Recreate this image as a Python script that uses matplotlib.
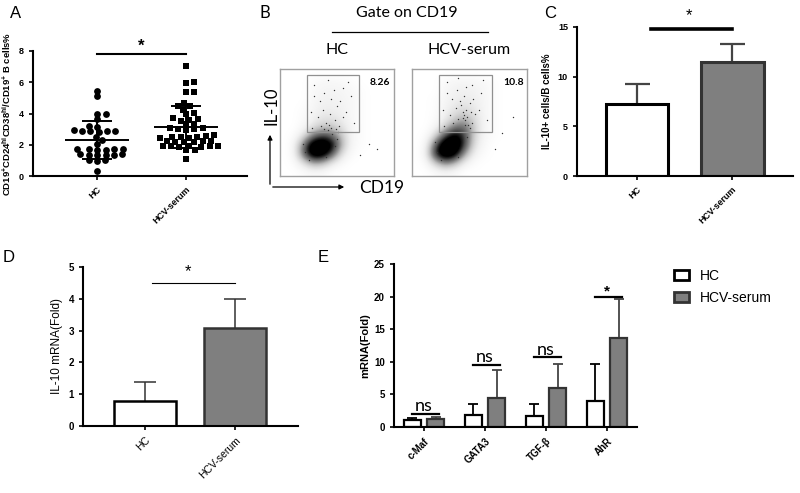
import numpy as np
import matplotlib
matplotlib.use('Agg')
import matplotlib.pyplot as plt
from matplotlib.patches import Rectangle, Patch

plt.rcParams['font.family'] = ['Liberation Sans', 'DejaVu Sans']
plt.rcParams['mathtext.default'] = 'regular'

# ---------------- data ----------------
groups = ['HC', 'HCV-serum']

# Panel A: individual values (%)
a_hc = [5.47, 5.15, 4.0, 4.0, 3.65, 3.16, 3.2, 2.9, 2.9, 2.85, 2.8, 2.9, 2.95,
        2.5, 2.3, 2.05, 1.7, 1.68, 1.7, 1.68, 1.7, 1.72, 1.35, 1.35, 1.4, 1.35,
        1.35, 1.4, 1.0, 0.95, 1.0, 0.35]
a_hcv = [7.05, 5.95, 6.0, 5.4, 5.35, 4.7, 4.45, 4.5, 4.25, 4.05, 3.95, 3.65, 3.6,
         3.55, 3.7, 3.3, 3.35, 3.0, 3.05, 2.95, 3.0, 3.1, 2.5, 2.55, 2.45, 2.5,
         2.6, 2.45, 2.5, 2.25, 2.25, 2.2, 2.2, 2.25, 2.2, 1.9, 1.85, 1.9, 1.9, 1.85,
         1.9, 1.95, 1.65, 1.65, 1.1]
a_sig = 7.8

# Panel B: flow cytometry density (rows top->bottom, cols left->right, 0..1)
b_hc_density = [
    [0, 0, 0, 0, 0, 0, 0, 0, 0, 0, 0, 0],
    [0, 0, 0, .03, .05, .05, .04, .03, 0, 0, 0, 0],
    [0, 0, 0, .04, .06, .07, .06, .04, .02, 0, 0, 0],
    [0, 0, 0, .05, .08, .08, .07, .05, .02, 0, 0, 0],
    [0, 0, .02, .06, .10, .10, .08, .05, .02, 0, 0, 0],
    [0, 0, .03, .08, .14, .14, .10, .05, .02, 0, 0, 0],
    [0, 0, .05, .15, .25, .25, .15, .06, .02, 0, 0, 0],
    [0, .02, .15, .45, .60, .50, .25, .06, .02, 0, 0, 0],
    [0, .05, .45, .95, 1.0, .80, .30, .05, .02, 0, 0, 0],
    [0, .05, .50, .95, .90, .55, .15, .03, 0, 0, 0, 0],
    [0, .02, .15, .35, .30, .12, .03, 0, 0, 0, 0, 0],
    [0, 0, .02, .04, .03, 0, 0, 0, 0, 0, 0, 0]]
b_hcv_density = [
    [0, 0, 0, 0, 0, 0, 0, 0, 0, 0, 0, 0],
    [0, 0, 0, .04, .06, .07, .06, .04, .02, 0, 0, 0],
    [0, 0, 0, .05, .08, .09, .08, .05, .02, 0, 0, 0],
    [0, 0, .02, .06, .10, .12, .10, .06, .02, 0, 0, 0],
    [0, 0, .02, .08, .14, .18, .12, .06, .02, 0, 0, 0],
    [0, 0, .03, .10, .22, .30, .18, .06, .02, 0, 0, 0],
    [0, 0, .06, .22, .45, .50, .22, .06, .02, 0, 0, 0],
    [0, .02, .20, .60, .85, .60, .20, .05, .02, 0, 0, 0],
    [0, .05, .55, 1.0, 1.0, .60, .15, .04, 0, 0, 0, 0],
    [0, .08, .70, 1.0, .85, .35, .08, .02, 0, 0, 0, 0],
    [0, .03, .25, .45, .30, .08, .02, 0, 0, 0, 0, 0],
    [0, 0, .03, .05, .03, 0, 0, 0, 0, 0, 0, 0]]
b_hc_dots = [(0.30, 0.85), (0.42, 0.90), (0.55, 0.82), (0.62, 0.75), (0.35, 0.70),
             (0.45, 0.72), (0.50, 0.65), (0.38, 0.62), (0.58, 0.60), (0.27, 0.60),
             (0.44, 0.58), (0.33, 0.55), (0.48, 0.52), (0.40, 0.50), (0.52, 0.47),
             (0.36, 0.47), (0.45, 0.45), (0.42, 0.43), (0.55, 0.55), (0.65, 0.50),
             (0.30, 0.75), (0.60, 0.88), (0.47, 0.80), (0.39, 0.78), (0.53, 0.70),
             (0.28, 0.45), (0.46, 0.39), (0.50, 0.35), (0.22, 0.22), (0.20, 0.30),
             (0.48, 0.28), (0.25, 0.15), (0.40, 0.18), (0.78, 0.30), (0.85, 0.25),
             (0.70, 0.20), (0.49, 0.44), (0.43, 0.48), (0.39, 0.44), (0.51, 0.41)]
b_hcv_dots = [(0.30, 0.88), (0.40, 0.92), (0.52, 0.85), (0.60, 0.78), (0.35, 0.72),
              (0.45, 0.75), (0.50, 0.68), (0.38, 0.64), (0.58, 0.62), (0.27, 0.62),
              (0.44, 0.60), (0.33, 0.57), (0.48, 0.55), (0.40, 0.53), (0.52, 0.50),
              (0.36, 0.50), (0.45, 0.57), (0.47, 0.62), (0.55, 0.58), (0.65, 0.52),
              (0.30, 0.78), (0.62, 0.90), (0.47, 0.83), (0.39, 0.80), (0.53, 0.72),
              (0.28, 0.47), (0.46, 0.52), (0.50, 0.45), (0.22, 0.22), (0.20, 0.32),
              (0.48, 0.36), (0.25, 0.15), (0.40, 0.18), (0.78, 0.40), (0.88, 0.55),
              (0.72, 0.25), (0.49, 0.48), (0.43, 0.66), (0.42, 0.70), (0.51, 0.60),
              (0.46, 0.48), (0.44, 0.54)]
b_hc_pct = '8.26'
b_hcv_pct = '10.8'

# Panel C
c_mean = [7.25, 11.5]
c_err = [2.0, 1.8]
c_sig = 14.8

# Panel D
d_mean = [0.79, 3.08]
d_err = [0.59, 0.92]
d_sig = 4.5

# Panel E
e_genes = ['c-Maf', 'GATA3', 'TGF-β', 'AhR']
e_hc = [1.07, 1.9, 1.7, 4.0]
e_hc_err = [0.25, 1.6, 1.8, 5.6]
e_hcv = [1.2, 4.5, 6.0, 13.7]
e_hcv_err = [0.4, 4.25, 3.7, 5.9]
e_sig_y = [2.0, 9.5, 10.7, 20.0]
e_sig_txt = ['ns', 'ns', 'ns', '*']

# ---------------- figure ----------------
W, H = 800, 493
fig = plt.figure(figsize=(8, 4.93), dpi=100)


def fr(x0, y0, x1, y1):
    return [x0 / W, 1 - y1 / H, (x1 - x0) / W, (y1 - y0) / H]


def ftext(x, y, s, **kw):
    fig.text(x / W, 1 - y / H, s, **kw)


GRAY = '#7f7f7f'
EDGE = '#333333'


def style_axes(ax, lw=1.5):
    for s in ['top', 'right']:
        ax.spines[s].set_visible(False)
    for s in ['left', 'bottom']:
        ax.spines[s].set_linewidth(lw)
    ax.tick_params(direction='out', length=3, width=1.2)


def swarm(vals, xscale, yscale, dx_min, dy_min):
    """Beeswarm offsets (elliptical collision) in data units."""
    vals = np.asarray(vals, float)
    order = np.argsort(vals)
    xs = np.zeros(len(vals))
    placed = []
    k = dx_min / dy_min
    for i in order:
        y = vals[i] * yscale * k
        cands = [0.0]
        for px, py in placed:
            dy = y - py
            if abs(dy) < dx_min:
                dx = np.sqrt(dx_min ** 2 - dy ** 2)
                cands += [px + dx, px - dx]
        cands = sorted(cands, key=lambda c: (round(abs(c), 6), -c))
        for c in cands:
            if all((c - px) ** 2 + (y - py) ** 2 >= dx_min ** 2 - 1e-6
                   for px, py in placed):
                xs[i] = c
                break
        placed.append((xs[i], y))
    return xs / xscale


# ---------- Panel A ----------
axA = fig.add_axes(fr(33, 51, 247, 176))
xlA = (-0.72, 1.685)
axA.set_xlim(*xlA)
axA.set_ylim(0, 8)
style_axes(axA)
posA = axA.get_position()
xsc = posA.width * W / (xlA[1] - xlA[0])
ysc = posA.height * H / 8.0
for k, (vals, mk) in enumerate([(a_hc, 'o'), (a_hcv, 's')]):
    off = swarm(vals, xsc, ysc, 8.5, 5.0)
    axA.scatter(k + off, vals, marker=mk, s=24 if mk == 'o' else 22, color='k',
                linewidths=0, zorder=3, clip_on=False)
    m = np.mean(vals)
    sd = np.std(vals, ddof=1)
    axA.hlines(m, k - 0.36, k + 0.36, color='k', lw=1.4, zorder=4)
    axA.hlines([m - sd, m + sd], k - 0.17, k + 0.17, color='k', lw=1.4, zorder=4)
    axA.vlines(k, m - sd, m + sd, color='k', lw=1.4, zorder=4)
axA.set_yticks([0, 2, 4, 6, 8])
axA.set_xticks([0, 1])
axA.set_xticklabels(groups, rotation=45, ha='right', rotation_mode='anchor',
                    fontsize=6.5, fontweight='bold')
for lab in axA.get_yticklabels():
    lab.set_fontsize(6.5)
    lab.set_fontweight('bold')
axA.plot([0, 1], [a_sig, a_sig], color='k', lw=1.5, clip_on=False)
axA.text(0.5, a_sig + 0.05, '*', ha='center', va='bottom', fontsize=12, fontweight='bold')
axA.set_ylabel(r'CD19$^{+}$CD24$^{hi}$CD38$^{hi}$/CD19$^{+}$ B cells%',
               fontsize=6.8, fontweight='bold', labelpad=4)
ftext(10, 14, 'A', fontsize=12, va='center')

# ---------- Panel B ----------
for (x0, x1, dens, dots, pct, name) in [
        (280, 394, b_hc_density, b_hc_dots, b_hc_pct, 'HC'),
        (412, 527, b_hcv_density, b_hcv_dots, b_hcv_pct, 'HCV-serum')]:
    ax = fig.add_axes(fr(x0, 69, x1, 176))
    ax.imshow(np.array(dens), cmap='Greys', vmin=0, vmax=0.75,
              interpolation='bicubic', extent=(0, 1, 0, 1), aspect='auto')
    ax.set_xlim(0, 1)
    ax.set_ylim(0, 1)
    ax.set_xticks([])
    ax.set_yticks([])
    for s in ax.spines.values():
        s.set_color('#a0a0a0')
        s.set_linewidth(1.0)
    dx, dy = zip(*dots)
    ax.scatter(dx, dy, s=1.0, color='#333333', linewidths=0)
    ax.add_patch(Rectangle((0.237, 0.411), 0.458, 0.533, fill=False,
                           edgecolor='#909090', lw=0.9))
    ax.text(0.88, 0.87, pct, ha='center', va='center', fontsize=7.5,
            fontweight='bold', family=['Lato', 'DejaVu Sans'])
    ftext((x0 + x1) / 2, 50, name, ha='center', va='center', fontsize=11.5,
          family=['Lato', 'DejaVu Sans'])

ftext(407, 13, 'Gate on CD19', ha='center', va='center', fontsize=11.5,
      family=['Lato', 'DejaVu Sans'])
fig.add_artist(plt.Line2D([332 / W, 488 / W], [1 - 32 / H, 1 - 32 / H],
                          color='k', lw=0.9))
ftext(265, 13, 'B', fontsize=12, va='center', ha='center',
      family=['Lato', 'DejaVu Sans'])
fig.patches.append(matplotlib.patches.FancyArrowPatch(
    (270 / W, 1 - 187 / H), (270 / W, 1 - 132 / H), transform=fig.transFigure,
    arrowstyle='-|>', mutation_scale=7, lw=0.9, color='k'))
fig.patches.append(matplotlib.patches.FancyArrowPatch(
    (270 / W, 1 - 187 / H), (347 / W, 1 - 187 / H), transform=fig.transFigure,
    arrowstyle='-|>', mutation_scale=7, lw=0.9, color='k'))
ftext(272, 106, 'IL-10', rotation=90, ha='center', va='center', fontsize=12,
      family=['Lato', 'DejaVu Sans'])
ftext(382, 188, 'CD19', ha='center', va='center', fontsize=12.5,
      family=['Lato', 'DejaVu Sans'])

# ---------- Panel C ----------
axC = fig.add_axes(fr(577, 27, 793, 176))
axC.set_xlim(-0.63, 1.64)
axC.set_ylim(0, 15)
style_axes(axC)
axC.errorbar([0, 1], c_mean, yerr=c_err, fmt='none', ecolor='#444444',
             elinewidth=1.6, capsize=9, capthick=1.6, zorder=1)
axC.bar([0, 1], c_mean, width=0.66, color=['white', GRAY],
        edgecolor=['k', EDGE], linewidth=2.2, zorder=2)
axC.set_xticks([0, 1])
axC.set_xticklabels(groups, rotation=45, ha='right', rotation_mode='anchor',
                    fontsize=6.5, fontweight='bold')
axC.set_yticks([0, 5, 10, 15])
for lab in axC.get_yticklabels():
    lab.set_fontsize(6.5)
    lab.set_fontweight('bold')
axC.plot([0.15, 1.0], [c_sig, c_sig], color='k', lw=2.6, clip_on=False)
axC.text(0.55, c_sig + 0.6, '*', ha='center', va='bottom', fontsize=12)
axC.set_ylabel('IL-10+ cells/B cells%', fontsize=7, fontweight='bold', labelpad=4)
ftext(550, 13, 'C', fontsize=12, va='center', ha='center')

# ---------- Panel D ----------
axD = fig.add_axes(fr(83, 267, 298, 426))
axD.set_xlim(-0.69, 1.7)
axD.set_ylim(0, 5)
style_axes(axD)
axD.errorbar([0, 1], d_mean, yerr=d_err, fmt='none', ecolor='#333333',
             elinewidth=1.1, capsize=8, capthick=1.1, zorder=1)
axD.bar([0, 1], d_mean, width=0.69, color=['white', GRAY],
        edgecolor=['k', EDGE], linewidth=1.8, zorder=2)
axD.set_xticks([0, 1])
axD.set_xticklabels(groups, rotation=45, ha='right', rotation_mode='anchor',
                    fontsize=7.5)
axD.set_yticks([0, 1, 2, 3, 4, 5])
for lab in axD.get_yticklabels():
    lab.set_fontsize(7)
    lab.set_fontweight('bold')
axD.plot([0.08, 1.0], [d_sig, d_sig], color='k', lw=0.8, clip_on=False)
axD.text(0.48, d_sig + 0.12, '*', ha='center', va='bottom', fontsize=12)
axD.set_ylabel('IL-10 mRNA(Fold)', fontsize=8.5, labelpad=4)
ftext(9, 257, 'D', fontsize=12, va='center', ha='center')

# ---------- Panel E ----------
axE = fig.add_axes(fr(394, 264, 637, 427))
axE.set_xlim(-0.49, 3.49)
axE.set_ylim(0, 25)
style_axes(axE)
xi = np.arange(len(e_genes))
axE.errorbar(xi - 0.19, e_hc, yerr=e_hc_err, fmt='none', ecolor='k',
             elinewidth=1.3, capsize=3.5, capthick=1.3, zorder=1)
axE.errorbar(xi + 0.19, e_hcv, yerr=e_hcv_err, fmt='none', ecolor='#444444',
             elinewidth=1.3, capsize=3.5, capthick=1.3, zorder=1)
axE.bar(xi - 0.19, e_hc, width=0.28, color='white', edgecolor='k',
        linewidth=1.6, zorder=2)
axE.bar(xi + 0.19, e_hcv, width=0.28, color=GRAY, edgecolor=EDGE,
        linewidth=1.6, zorder=2)
for i, (yv, t) in enumerate(zip(e_sig_y, e_sig_txt)):
    axE.plot([i - 0.19, i + 0.24], [yv, yv], color='k', lw=1.6)
    if t == 'ns':
        axE.text(i, yv + 0.4, t, ha='center', va='baseline', fontsize=13,
                 family=['Lato', 'DejaVu Sans'])
    else:
        axE.text(i, yv - 0.3, t, ha='center', va='bottom', fontsize=11,
                 fontweight='bold')
axE.set_xticks(xi)
axE.set_xticklabels(e_genes, rotation=45, ha='right', rotation_mode='anchor',
                    fontsize=7, fontweight='bold')
axE.set_yticks([0, 5, 10, 15, 20, 25])
for lab in axE.get_yticklabels():
    lab.set_fontsize(7)
    lab.set_fontweight('bold')
axE.set_ylabel('mRNA(Fold)', fontsize=8, fontweight='bold', labelpad=3)
ftext(323, 258, 'E', fontsize=12, va='center', ha='center')

handles = [Patch(facecolor='white', edgecolor='k', linewidth=2),
           Patch(facecolor=GRAY, edgecolor=EDGE, linewidth=2)]
fig.legend(handles, groups, loc='upper left', bbox_to_anchor=(668 / W, 1 - 263 / H),
           frameon=False, fontsize=10, handlelength=1.1, handleheight=0.75,
           handletextpad=0.8, labelspacing=0.6, borderaxespad=0)

fig.savefig('out.png', dpi=100)
